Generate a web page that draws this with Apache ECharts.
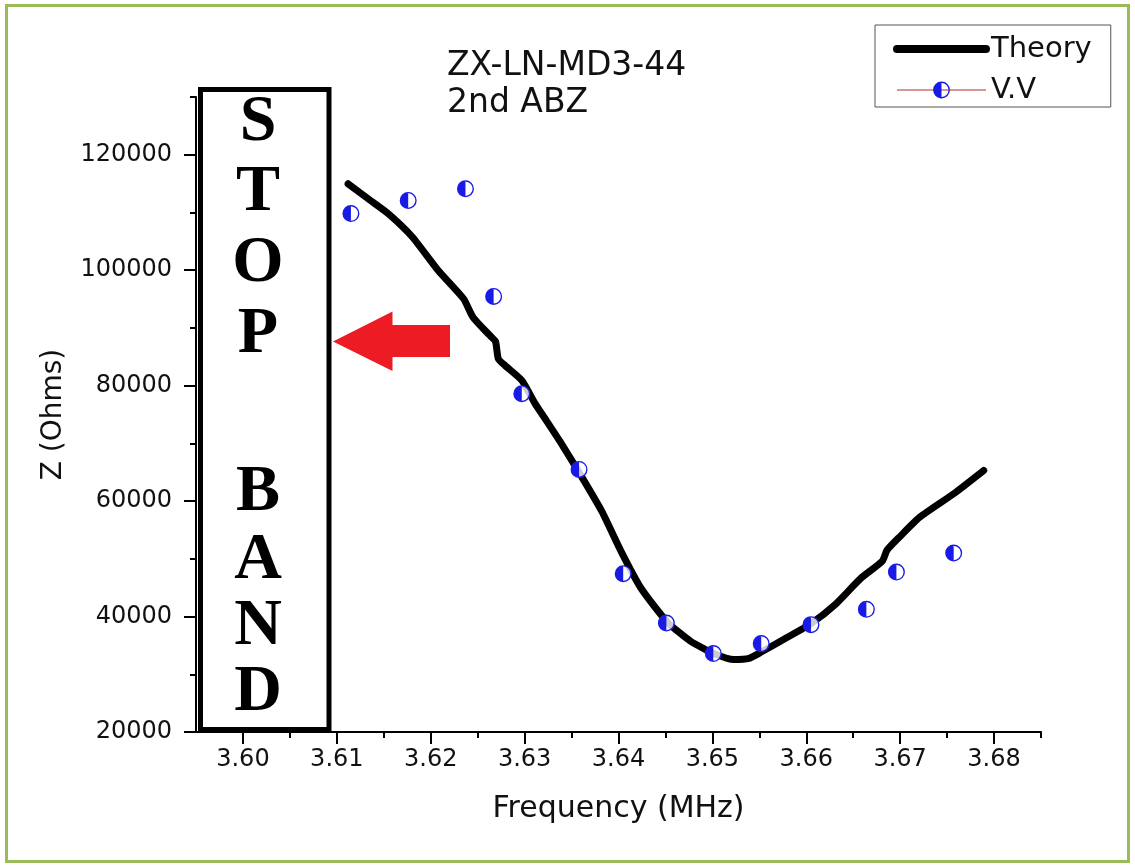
<!DOCTYPE html>
<html>
<head>
<meta charset="utf-8">
<script src="https://cdn.jsdelivr.net/npm/echarts@6/dist/echarts.min.js"></script>
<style>
html,body{margin:0;padding:0;background:#fff;}
#chart{width:1135px;height:867px;}
</style>
</head>
<body>
<div id="chart"></div>
<script>
// ---- data ----
const theoryFreq = [3.6112, 3.6133, 3.6155, 3.6180, 3.6208, 3.6235, 3.6245, 3.6263, 3.6269, 3.6272, 3.6279, 3.6297, 3.6311, 3.6323, 3.6339, 3.6358, 3.6382, 3.6403, 3.6424, 3.6452, 3.6477, 3.6502, 3.6523, 3.6539, 3.6552, 3.6578, 3.6605, 3.6631, 3.6658, 3.6681, 3.6686, 3.6700, 3.6721, 3.6757, 3.6789];
const theoryZ    = [114960, 112420, 109770, 105840, 99950, 95050, 91860, 88690, 87650, 84660, 83500, 80900, 76920, 73970, 69990, 64970, 58300, 51200, 44900, 39050, 35710, 33580, 32540, 32760, 33850, 36230, 38770, 42110, 46620, 49600, 51500, 53890, 57230, 61280, 65320];
const vvFreq = [3.6115, 3.6176, 3.6237, 3.6267, 3.6297, 3.6358, 3.6405, 3.6451, 3.6501, 3.6552, 3.6605, 3.6664, 3.6696, 3.6757];
const vvZ    = [109800, 112070, 114100, 95450, 78600, 65490, 47430, 38870, 33580, 35310, 38600, 41250, 47700, 51000];
const xMajorTicks = [3.60, 3.61, 3.62, 3.63, 3.64, 3.65, 3.66, 3.67, 3.68];
const xMinorTicks = [3.605, 3.615, 3.625, 3.635, 3.645, 3.655, 3.665, 3.675, 3.685];
const yMajorTicks = [20000, 40000, 60000, 80000, 100000, 120000];
const yMinorTicks = [30000, 50000, 70000, 90000, 110000, 130000];
const stopLetters = ['S', 'T', 'O', 'P', 'B', 'A', 'N', 'D'];
const titleLines = ['ZX-LN-MD3-44', '2nd ABZ'];
const seriesNames = ['Theory', 'V.V'];

// ---- layout ----
const FONT = '"DejaVu Sans", sans-serif';
const letterY = [123, 193, 264, 335, 493, 561, 627, 693];
const BLUE = '#1a1ae6';
const halfCircle = 'path://M0,50A50,50 0 1,1 100,50A50,50 0 1,1 0,50Z M8,50A42,42 0 1,0 92,50A42,42 0 1,0 8,50Z M50,100A50,50 0 0,1 50,0Z';

const chart = echarts.init(document.getElementById('chart'), null, {renderer: 'canvas'});

const theoryData = theoryFreq.map((f, i) => [f, theoryZ[i]]);
const vvData = vvFreq.map((f, i) => [f, vvZ[i]]);

const graphics = [
  {type: 'rect', shape: {x: 6.5, y: 5.5, width: 1122, height: 856}, style: {fill: 'none', stroke: '#9bbb59', lineWidth: 3}, z: 1},
  {type: 'rect', shape: {x: 200.5, y: 89.5, width: 128.5, height: 640}, style: {fill: '#fff', stroke: '#000', lineWidth: 5}, z: 50},
  {type: 'polygon', shape: {points: [[333, 341.5], [392.5, 311.5], [392.5, 325], [450, 325], [450, 357], [392.5, 357], [392.5, 371]]}, style: {fill: '#ed1c24'}, z: 50}
];
stopLetters.forEach((ch, i) => {
  graphics.push({type: 'text', x: 258, y: letterY[i], z: 51,
    style: {text: ch, font: 'bold 66px "Liberation Serif", serif', fill: '#000', align: 'center', verticalAlign: 'middle'}});
});
titleLines.forEach((t, i) => {
  graphics.push({type: 'text', x: 447, y: 66 + i * 37, z: 51,
    style: {text: t, font: '33px ' + FONT, fill: '#111', align: 'left', verticalAlign: 'middle'}});
});

const option = {
  animation: false,
  backgroundColor: '#fff',
  grid: {left: 196, right: 94, top: 97, bottom: 135, containLabel: false},
  legend: {
    orient: 'vertical', left: 875, top: 25,
    padding: [9, 19, 2, 18], itemGap: 11, itemWidth: 89, itemHeight: 21,
    borderColor: '#555', borderWidth: 1, backgroundColor: '#fff',
    textStyle: {fontFamily: FONT, fontSize: 29, color: '#111', lineHeight: 30},
    data: [
      {name: seriesNames[0], lineStyle: {width: 8, color: '#000'}, itemStyle: {opacity: 0}},
      {name: seriesNames[1], lineStyle: {width: 1, color: '#b03030', opacity: 1}}
    ]
  },
  xAxis: [{
    type: 'value', min: 3.595, max: 3.685,
    axisLine: {show: true, lineStyle: {color: '#000', width: 2}},
    axisTick: {show: true, inside: false, length: 12, lineStyle: {color: '#000', width: 2}, customValues: xMajorTicks},
    axisLabel: {show: true, margin: 16, fontFamily: FONT, fontSize: 24, color: '#111', customValues: xMajorTicks, formatter: v => v.toFixed(2)},
    splitLine: {show: false},
    name: 'Frequency (MHz)', nameLocation: 'middle', nameGap: 62,
    nameTextStyle: {fontFamily: FONT, fontSize: 30, color: '#111'}
  }, {
    type: 'value', min: 3.595, max: 3.685, position: 'bottom',
    axisLine: {show: false},
    axisTick: {show: true, inside: false, length: 6, lineStyle: {color: '#000', width: 2}, customValues: xMinorTicks},
    axisLabel: {show: false}, splitLine: {show: false}
  }],
  yAxis: [{
    type: 'value', min: 20000, max: 130000,
    axisLine: {show: true, lineStyle: {color: '#000', width: 2}},
    axisTick: {show: true, inside: false, length: 12, lineStyle: {color: '#000', width: 2}, customValues: yMajorTicks},
    axisLabel: {show: true, margin: 24, fontFamily: FONT, fontSize: 24, color: '#111', customValues: yMajorTicks, formatter: v => String(v)},
    splitLine: {show: false},
    name: 'Z (Ohms)', nameLocation: 'middle', nameGap: 128, nameRotate: 90,
    nameTextStyle: {fontFamily: FONT, fontSize: 28, color: '#111'}
  }, {
    type: 'value', min: 20000, max: 130000, position: 'left',
    axisLine: {show: false},
    axisTick: {show: true, inside: false, length: 6, lineStyle: {color: '#000', width: 2}, customValues: yMinorTicks},
    axisLabel: {show: false}, splitLine: {show: false}
  }],
  series: [
    {
      name: seriesNames[0], type: 'line', data: theoryData, showSymbol: false, symbol: 'none', smooth: 0.2,
      lineStyle: {color: '#000', width: 7, cap: 'round', join: 'round'}, itemStyle: {color: '#000'}, z: 3
    },
    {
      name: 'vv-bg', type: 'scatter', data: vvData, symbol: 'circle', symbolSize: 16,
      itemStyle: {color: '#fff'}, silent: true, z: 4
    },
    {
      name: seriesNames[1], type: 'line', data: vvData, showSymbol: true, showAllSymbol: true,
      symbol: halfCircle, symbolSize: 17,
      lineStyle: {opacity: 0, color: '#b03030', width: 1},
      itemStyle: {color: BLUE}, z: 5
    }
  ],
  graphic: graphics
};
chart.setOption(option);
</script>
</body>
</html>
